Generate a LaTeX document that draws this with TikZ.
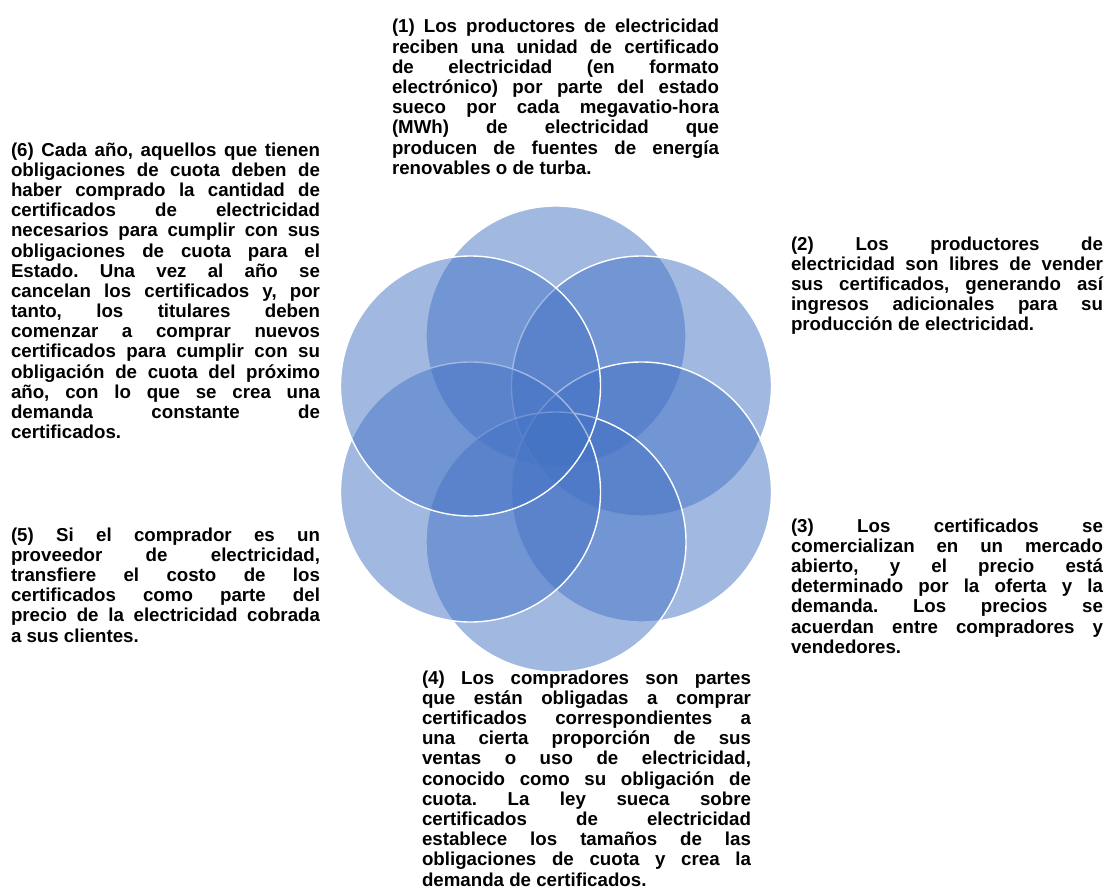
\documentclass[tikz,border=0pt]{standalone}
\usepackage{fontspec}
\setmainfont{Liberation Sans}
\frenchspacing
\definecolor{petalblue}{RGB}{68,114,196}
\newcommand\Ln[1]{\hbox to\hsize{#1}}
\newcommand\Lz[1]{\hbox{#1}}
\newcommand\Blk[2]{\vtop{\hsize=#1\relax\parindent=0pt\fontsize{18.7pt}{20.2pt}\selectfont\bfseries\frenchspacing #2}}
\begin{document}
\begin{tikzpicture}[x=1pt,y=-1pt,
  petal/.style={circle, minimum size=260pt, inner sep=0pt, fill=petalblue, fill opacity=0.5, draw=white, draw opacity=1, line width=1.4pt},
  txt/.style={anchor=base west, inner sep=0pt, outer sep=0pt, text=black}]
\path[use as bounding box] (0,0) rectangle (1106,891);
% petals (drawn clockwise from top)
\node[petal] (c1) at (556,336) {};
\node[petal] (c2) at (641.5,386) {};
\node[petal] (c3) at (641.5,492) {};
\node[petal] (c4) at (556,542) {};
\node[petal] (c5) at (470.5,492) {};
\node[petal] (c6) at (470.5,386) {};
% texts
\node[txt] (t1) at (392,33) {\Blk{327pt}{%
\Ln{(1) Los productores de electricidad}
\Ln{reciben una unidad de certificado}
\Ln{de electricidad (en formato}
\Ln{electrónico) por parte del estado}
\Ln{sueco por cada megavatio-hora}
\Ln{(MWh) de electricidad que}
\Ln{producen de fuentes de energía}
\Lz{renovables o de turba.}}};
\node[txt] (t2) at (791,250) {\Blk{312pt}{%
\Ln{(2) Los productores de}
\Ln{electricidad son libres de vender}
\Ln{sus certificados, generando así}
\Ln{ingresos adicionales para su}
\Lz{producción de electricidad.}}};
\node[txt] (t3) at (791,532) {\Blk{312pt}{%
\Ln{(3) Los certificados se}
\Ln{comercializan en un mercado}
\Ln{abierto, y el precio está}
\Ln{determinado por la oferta y la}
\Ln{demanda. Los precios se}
\Ln{acuerdan entre compradores y}
\Lz{vendedores.}}};
\node[txt] (t4) at (422,684) {\Blk{329pt}{%
\Ln{(4) Los compradores son partes}
\Ln{que están obligadas a comprar}
\Ln{certificados correspondientes a}
\Ln{una cierta proporción de sus}
\Ln{ventas o uso de electricidad,}
\Ln{conocido como su obligación de}
\Ln{cuota. La ley sueca sobre}
\Ln{certificados de electricidad}
\Ln{establece los tamaños de las}
\Ln{obligaciones de cuota y crea la}
\Lz{demanda de certificados.}}};
\node[txt] (t5) at (11,541) {\Blk{309pt}{%
\Ln{(5) Si el comprador es un}
\Ln{proveedor de electricidad,}
\Ln{transfiere el costo de los}
\Ln{certificados como parte del}
\Ln{precio de la electricidad cobrada}
\Lz{a sus clientes.}}};
\node[txt] (t6) at (11,156) {\Blk{309pt}{%
\Ln{(6) Cada año, aquellos que tienen}
\Ln{obligaciones de cuota deben de}
\Ln{haber comprado la cantidad de}
\Ln{certificados de electricidad}
\Ln{necesarios para cumplir con sus}
\Ln{obligaciones de cuota para el}
\Ln{Estado. Una vez al año se}
\Ln{cancelan los certificados y, por}
\Ln{tanto, los titulares deben}
\Ln{comenzar a comprar nuevos}
\Ln{certificados para cumplir con su}
\Ln{obligación de cuota del próximo}
\Ln{año, con lo que se crea una}
\Ln{demanda constante de}
\Lz{certificados.}}};
\end{tikzpicture}
\end{document}
